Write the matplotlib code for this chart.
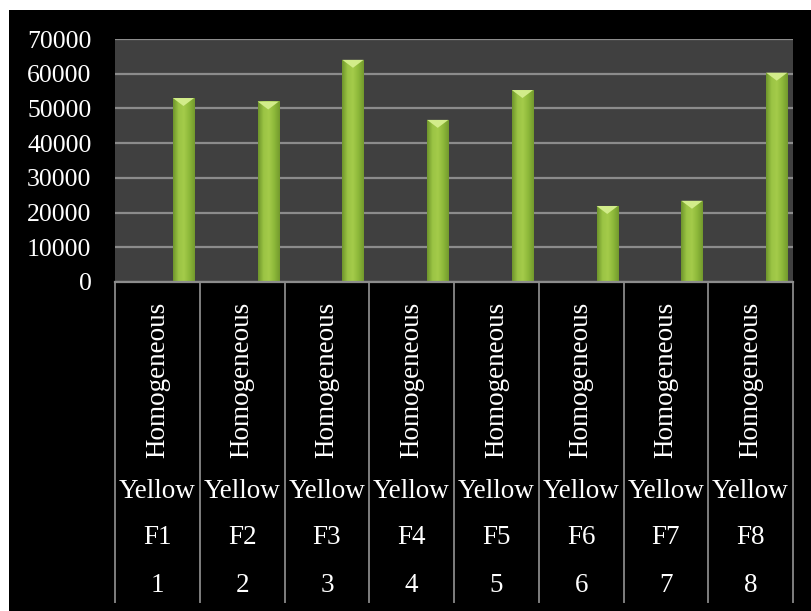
import numpy as np
import matplotlib.pyplot as plt
from matplotlib.colors import LinearSegmentedColormap
from matplotlib.patches import Rectangle, Polygon
import matplotlib.transforms as mtransforms

plt.rcParams['font.family'] = ['Liberation Serif', 'DejaVu Serif']

values = [53000, 52000, 64000, 46700, 55300, 21900, 23400, 60300]
row_type = ["Homogeneous"] * 8
row_colour = ["Yellow"] * 8
row_code = ["F1", "F2", "F3", "F4", "F5", "F6", "F7", "F8"]
row_num = ["1", "2", "3", "4", "5", "6", "7", "8"]
yticks = [0, 10000, 20000, 30000, 40000, 50000, 60000, 70000]

W, H = 811, 611
fig = plt.figure(figsize=(W / 100, H / 100), dpi=100, facecolor='white')
# black chart area (white margin on the left and top)
fig.patches.append(Rectangle((9 / W, 0), 1, (H - 10) / H, transform=fig.transFigure,
                             facecolor='black', edgecolor='none', zorder=0))

x0, x1, ytop, y0 = 115, 793, 39, 282
ax = fig.add_axes([x0 / W, (H - y0) / H, (x1 - x0) / W, (y0 - ytop) / H])
ax.set_zorder(2)
ax.set_facecolor('#404040')
for s in ax.spines.values():
    s.set_visible(False)
ax.set_yticks(yticks)
ax.set_yticklabels([str(v) for v in yticks], color='white', fontsize=18.5)
ax.tick_params(axis='y', length=0, pad=17)
ax.set_xticks([])
ax.grid(axis='y', color='#8c8c8c', linewidth=1.6)
ax.set_axisbelow(True)

cmap = LinearSegmentedColormap.from_list(
    'bar', ['#6f952c', '#9bc444', '#a4cb4a', '#8db83a', '#739a2d'])
grad = np.linspace(0, 1, 64).reshape(1, -1)
bw = 0.25
cap = 2300
for i, v in enumerate(values):
    xc = i + 0.808
    bars = ax.bar(xc, v, width=bw, color='#8fba3b', edgecolor='none', zorder=3)
    im = ax.imshow(grad, cmap=cmap, extent=(xc - bw / 2, xc + bw / 2, 0, v),
                   aspect='auto', zorder=4)
    im.set_clip_path(bars[0])
    tri = Polygon([(xc - bw / 2, v), (xc + bw / 2, v), (xc, v - cap)],
                  closed=True, facecolor='#d2ec8a', edgecolor='none', zorder=5)
    ax.add_patch(tri)
ax.set_xlim(0, 8)
ax.set_ylim(0, 70000)

# multi-level category labels
trans = mtransforms.blended_transform_factory(ax.transData, ax.transAxes)
ph = y0 - ytop
def fy(py):
    return (y0 - py) / ph

ax.plot([0, 8], [0, 0], color='#8c8c8c', linewidth=1.6, transform=trans,
        clip_on=False, zorder=6)
for k in range(9):
    ax.plot([k, k], [fy(282), fy(602)], color='#7f7f7f', linewidth=1.4,
            transform=trans, clip_on=False)
for i in range(8):
    xc = i + 0.5
    ax.text(xc, fy(458), row_type[i], rotation=90, ha='center', va='bottom',
            color='white', fontsize=19.5, transform=trans, clip_on=False)
    ax.text(xc, fy(492), row_colour[i], ha='center', va='center',
            color='white', fontsize=19.5, transform=trans)
    ax.text(xc, fy(538), row_code[i], ha='center', va='center',
            color='white', fontsize=19.5, transform=trans)
    ax.text(xc, fy(585), row_num[i], ha='center', va='center',
            color='white', fontsize=19.5, transform=trans)

fig.savefig('out.png', dpi=100, facecolor=fig.get_facecolor())
